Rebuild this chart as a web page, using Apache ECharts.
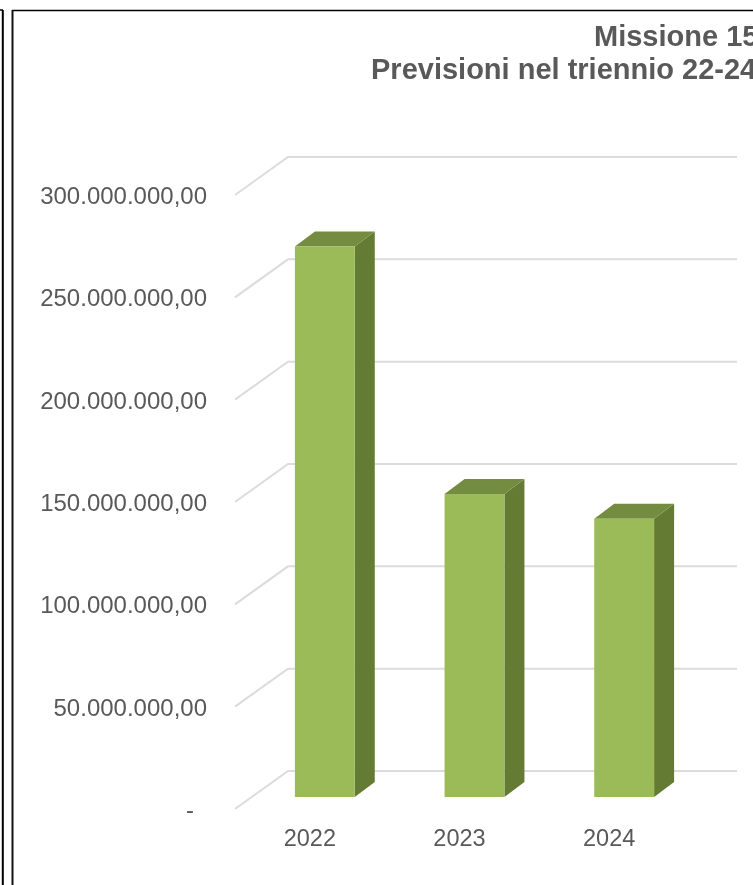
<!DOCTYPE html>
<html><head><meta charset="utf-8">
<style>html,body{margin:0;padding:0;background:#fff}#c{width:753px;height:885px}</style>
<script src="https://cdn.jsdelivr.net/npm/echarts@6/dist/echarts.min.js"></script>
</head><body><div id="c"></div>
<script>
const categories = ['2022','2023','2024'];
const values = [269000000,148000000,136000000];
const yTicks = [0,50000000,100000000,150000000,200000000,250000000,300000000];
const titleLines = ['Missione 15','Previsioni nel triennio 22-24'];
const fontFamily = '"Liberation Sans", Arial, sans-serif';
const textColor = '#595959';

const chart = echarts.init(document.getElementById('c'),null,{renderer:'canvas'});

function fmt(v){
  if(v===0) return '{dash|-}';
  return v.toLocaleString('it-IT',{minimumFractionDigits:2,maximumFractionDigits:2,useGrouping:'always'});
}
const wallDx=53, wallDy=-38;   // depth of the floor
const barOffX=15, barOffY=-12; // bar position in the depth
const barDx=20, barDy=-15;     // depth of a bar

function renderGrid(params,api){
  const p=api.coord([0,api.value(1)]);
  const band=api.size([1,0])[0];
  const x0=p[0]-band/2, y0=p[1];
  const x1=x0+wallDx, y1=y0+wallDy;
  const x2=x1+band*3;
  return {type:'polyline',silent:true,
    shape:{points:[[x0,y0],[x1,y1],[x2,y1]]},
    style:{stroke:'#dcdcdc',lineWidth:2,fill:null}};
}
function renderBar(params,api){
  const top=api.coord([api.value(0),api.value(1)]);
  const base=api.coord([api.value(0),0]);
  const w=api.size([1,0])[0]*0.4;
  const l=top[0]-w/2+barOffX, r=l+w;
  const t=top[1]+barOffY, b=base[1]+barOffY;
  return {type:'group',children:[
    {type:'polygon',shape:{points:[[r,t],[r+barDx,t+barDy],[r+barDx,b+barDy],[r,b]]},style:{fill:'#647b34'}},
    {type:'polygon',shape:{points:[[l,t],[l+barDx,t+barDy],[r+barDx,t+barDy],[r,t]]},style:{fill:'#738c40'}},
    {type:'rect',shape:{x:l,y:t,width:w,height:b-t},style:{fill:'#9bbb59'}}
  ]};
}
const titleStyle={fontFamily,fontSize:29,fontWeight:'bold',color:textColor};
chart.setOption({
  animation:false,
  backgroundColor:'#fff',
  textStyle:{fontFamily},
  title:[
    {text:titleLines[0],left:594,top:23,padding:0,textStyle:titleStyle},
    {text:titleLines[1],left:371,top:56,padding:0,textStyle:titleStyle}
  ],
  graphic:[
    {type:'line',shape:{x1:2.8,y1:10,x2:2.8,y2:885},style:{stroke:'#000',lineWidth:2}},
    {type:'line',shape:{x1:0,y1:10,x2:3,y2:10},style:{stroke:'#000',lineWidth:1.5}},
    {type:'line',shape:{x1:12,y1:10.5,x2:753,y2:10.5},style:{stroke:'#000',lineWidth:1.5}},
    {type:'line',shape:{x1:12.5,y1:10,x2:12.5,y2:885},style:{stroke:'#111',lineWidth:2}}
  ],
  grid:{left:235,width:449,top:195,height:614},
  xAxis:{type:'category',data:categories,axisLine:{show:false},axisTick:{show:false},
    axisLabel:{fontSize:23.5,color:textColor,margin:19,fontFamily}},
  yAxis:{type:'value',min:0,max:300000000,interval:50000000,splitLine:{show:false},
    axisLine:{show:false},axisTick:{show:false},
    axisLabel:{fontSize:24,color:textColor,margin:28,fontFamily,formatter:fmt,padding:[5,0,0,0],
      rich:{dash:{fontSize:24,color:textColor,fontFamily,padding:[0,13,0,0]}}}},
  series:[
    {type:'custom',renderItem:renderGrid,data:yTicks.map(v=>[0,v]),encode:{x:0,y:1},clip:false,silent:true,z:1},
    {type:'custom',renderItem:renderBar,data:values.map((v,i)=>[i,v]),encode:{x:0,y:1},clip:false,silent:true,z:2}
  ]
});
</script></body></html>
